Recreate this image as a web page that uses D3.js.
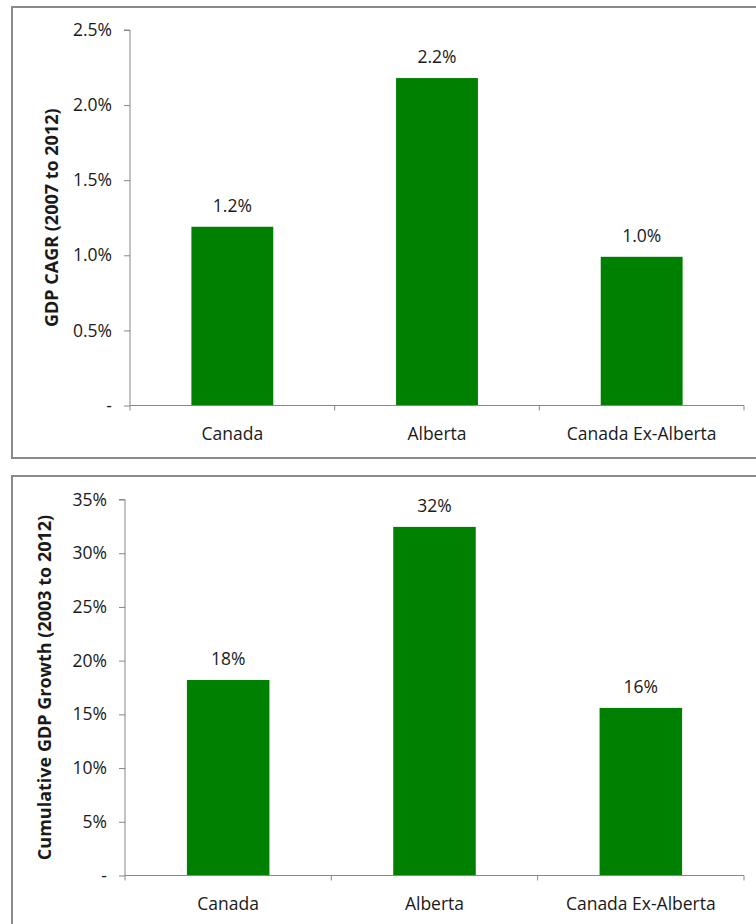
<!DOCTYPE html>
<html>
<head>
<meta charset="utf-8">
<script src="https://cdn.jsdelivr.net/npm/d3@7"></script>
<style>
  html, body { margin: 0; padding: 0; background: #fff; }
  svg { display: block; }
  text { font-family: "Open Sans", "Liberation Sans", sans-serif; fill: #1a1a1a; }
</style>
</head>
<body>
<svg id="chart" width="756" height="924"></svg>
<script>
// Regions compared in both panels
const categories = ["Canada", "Alberta", "Canada Ex-Alberta"];

// Panel 1: compound annual GDP growth, 2007 to 2012 (percent)
const cagrValues = [1.19, 2.18, 0.99];
const cagrLabels = ["1.2%", "2.2%", "1.0%"];
const cagrTicks = [0, 0.5, 1.0, 1.5, 2.0, 2.5];
const cagrTickLabels = ["-", "0.5%", "1.0%", "1.5%", "2.0%", "2.5%"];

// Panel 2: cumulative GDP growth, 2003 to 2012 (percent)
const cumValues = [18.2, 32.45, 15.6];
const cumLabels = ["18%", "32%", "16%"];
const cumTicks = [0, 5, 10, 15, 20, 25, 30, 35];
const cumTickLabels = ["-", "5%", "10%", "15%", "20%", "25%", "30%", "35%"];

const svg = d3.select("#chart");
const green = "#008000";
const axisGrey = "#878787";
const fontSize = 17.5;

function panel(cfg) {
  const g = svg.append("g");

  // frame around the panel (open on the right, runs off the page)
  g.append("path")
    .attr("d", `M${cfg.box.x1 + 20},${cfg.box.y0} H${cfg.box.x0} V${cfg.box.y1} H${cfg.box.x1 + 20}`)
    .attr("fill", "none")
    .attr("stroke", "#8a8a8a")
    .attr("stroke-width", 2);

  const x = d3.scaleBand()
    .domain(categories)
    .range([cfg.plot.left, cfg.plot.right])
    .paddingInner(0.6)
    .paddingOuter(0.3);

  const y = d3.scaleLinear()
    .domain([0, cfg.max])
    .range([cfg.plot.bottom, cfg.plot.top]);

  // bars
  g.selectAll("rect.bar")
    .data(cfg.values)
    .join("rect")
    .attr("class", "bar")
    .attr("x", (d, i) => x(categories[i]))
    .attr("width", x.bandwidth())
    .attr("y", d => y(d))
    .attr("height", d => y(0) - y(d))
    .attr("fill", green);

  // value labels
  g.selectAll("text.val")
    .data(cfg.values)
    .join("text")
    .attr("class", "val")
    .attr("x", (d, i) => x(categories[i]) + x.bandwidth() / 2)
    .attr("y", d => y(d) - 15)
    .attr("text-anchor", "middle")
    .attr("font-size", fontSize)
    .text((d, i) => cfg.labels[i]);

  // y axis
  const yAxis = d3.axisLeft(y)
    .tickValues(cfg.ticks)
    .tickFormat((d, i) => cfg.tickLabels[i])
    .tickSize(6)
    .tickPadding(12);
  const ya = g.append("g")
    .attr("transform", `translate(${cfg.plot.left},0)`)
    .call(yAxis);
  ya.select(".domain").attr("stroke", axisGrey).attr("d", `M-6,${cfg.plot.top}H0V${cfg.plot.bottom}`);
  ya.selectAll(".tick line").attr("stroke", axisGrey);
  ya.selectAll(".tick text")
    .attr("font-size", fontSize)
    .attr("font-family", "'Open Sans', sans-serif")
    .attr("fill", "#1a1a1a");

  // x axis: baseline with outward tick marks at category boundaries
  const xa = g.append("g");
  xa.append("line")
    .attr("x1", cfg.plot.left).attr("x2", cfg.plot.right)
    .attr("y1", y(0)).attr("y2", y(0))
    .attr("stroke", axisGrey);
  const bounds = d3.range(categories.length + 1).map(i => cfg.plot.left + i * (cfg.plot.right - cfg.plot.left) / categories.length);
  xa.selectAll("line.b")
    .data(bounds)
    .join("line")
    .attr("class", "b")
    .attr("x1", d => d).attr("x2", d => d)
    .attr("y1", y(0)).attr("y2", y(0) + 5)
    .attr("stroke", axisGrey);
  xa.selectAll("text.cat")
    .data(categories)
    .join("text")
    .attr("class", "cat")
    .attr("x", d => x(d) + x.bandwidth() / 2)
    .attr("y", y(0) + 34)
    .attr("text-anchor", "middle")
    .attr("font-size", fontSize)
    .text(d => d);

  // y axis title
  g.append("text")
    .attr("transform", `translate(${cfg.titleX},${(cfg.plot.top + cfg.plot.bottom) / 2}) rotate(-90)`)
    .attr("text-anchor", "middle")
    .attr("dy", "0.35em")
    .attr("font-size", 18)
    .attr("font-weight", "bold")
    .text(cfg.title);
}

panel({
  box: { x0: 12, x1: 756, y0: 7, y1: 458 },
  plot: { left: 130, right: 744, top: 30, bottom: 405.5 },
  max: 2.5,
  values: cagrValues,
  labels: cagrLabels,
  ticks: cagrTicks,
  tickLabels: cagrTickLabels,
  title: "GDP CAGR (2007 to 2012)",
  titleX: 52
});

panel({
  box: { x0: 12, x1: 756, y0: 476, y1: 940 },
  plot: { left: 125, right: 744, top: 499.5, bottom: 875.5 },
  max: 35,
  values: cumValues,
  labels: cumLabels,
  ticks: cumTicks,
  tickLabels: cumTickLabels,
  title: "Cumulative GDP Growth (2003 to 2012)",
  titleX: 45
});
</script>
</body>
</html>
